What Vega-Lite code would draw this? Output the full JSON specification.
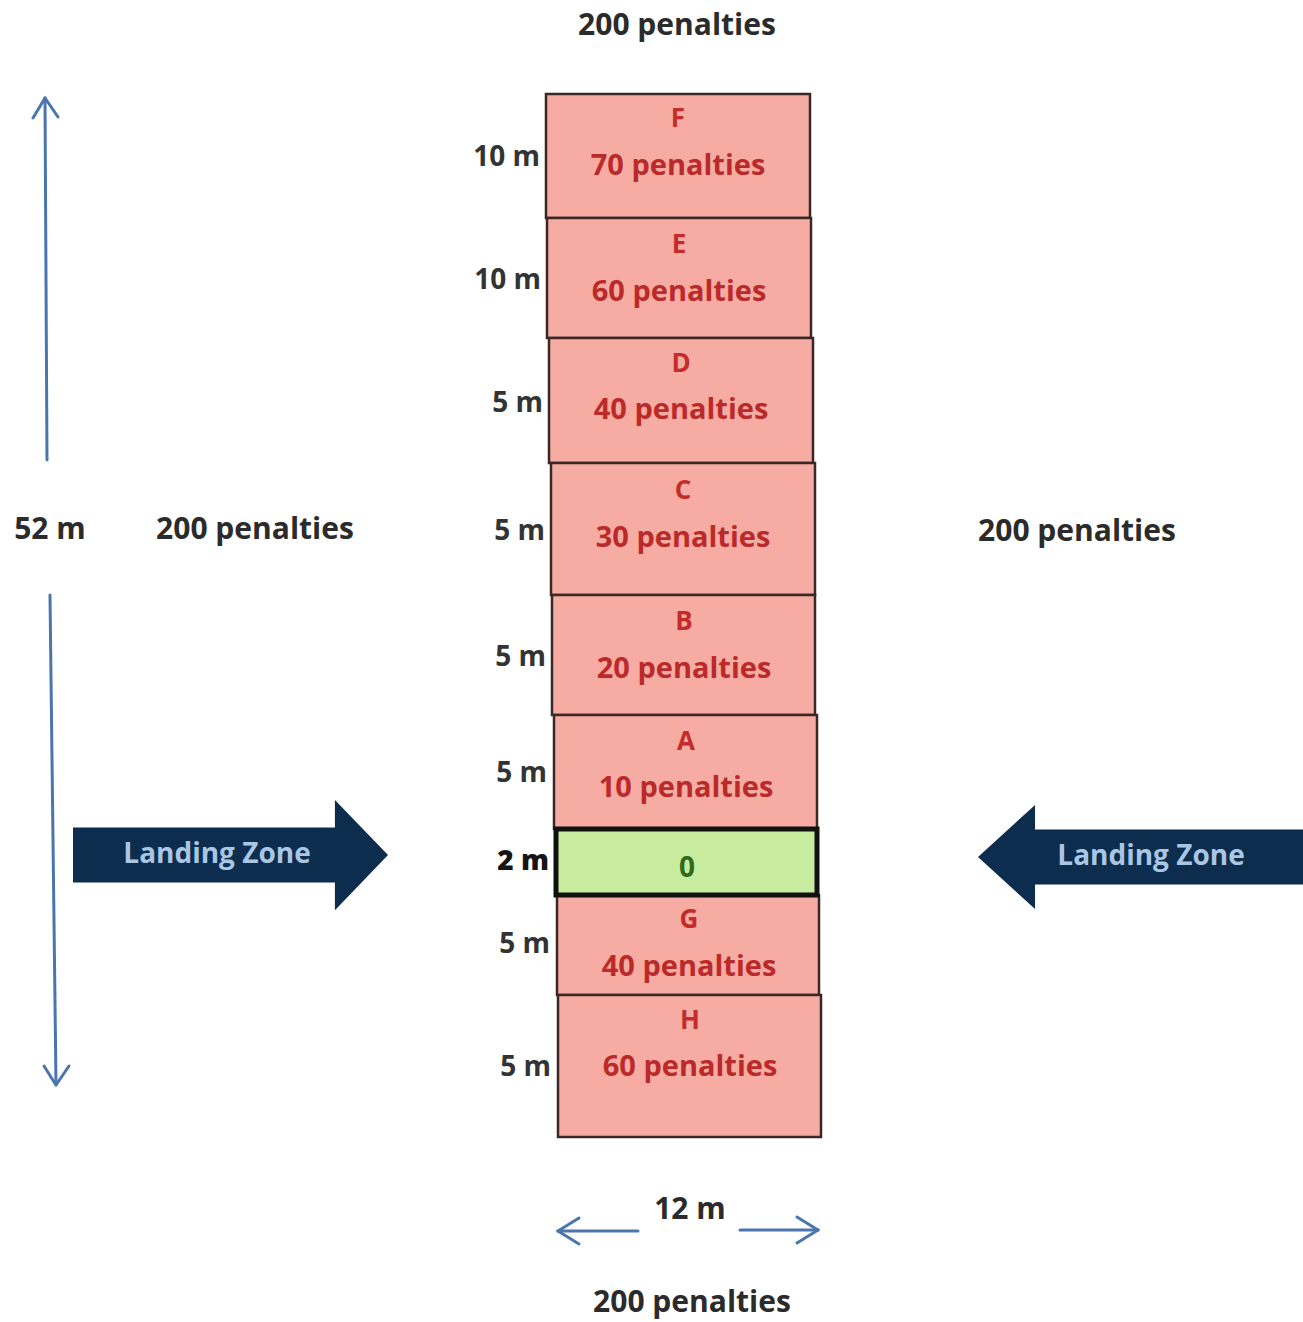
{
  "$schema": "https://vega.github.io/schema/vega-lite/v6.json",
  "autosize": {"type": "fit", "contains": "padding"},
  "width": 1303,
  "height": 1322,
  "padding": 0,
  "background": "#ffffff",
  "config": {"view": {"stroke": null}, "text": {"font": "Open Sans", "fontWeight": "bold"}},
  "datasets": {
    "zones": [
      {"zone": "F", "penalty": "70 penalties", "kind": "penalty", "x1": 546, "x2": 810, "y1": 94, "y2": 218, "yLetter": 119, "yLabel": 166, "metres": "10 m", "xm": 540, "ym": 158},
      {"zone": "E", "penalty": "60 penalties", "kind": "penalty", "x1": 547, "x2": 811, "y1": 218, "y2": 338, "yLetter": 245, "yLabel": 292, "metres": "10 m", "xm": 541, "ym": 281},
      {"zone": "D", "penalty": "40 penalties", "kind": "penalty", "x1": 549, "x2": 813, "y1": 338, "y2": 463, "yLetter": 364, "yLabel": 410, "metres": "5 m", "xm": 543, "ym": 404},
      {"zone": "C", "penalty": "30 penalties", "kind": "penalty", "x1": 551, "x2": 815, "y1": 463, "y2": 595, "yLetter": 491, "yLabel": 538, "metres": "5 m", "xm": 545, "ym": 532},
      {"zone": "B", "penalty": "20 penalties", "kind": "penalty", "x1": 552, "x2": 815, "y1": 595, "y2": 715, "yLetter": 622, "yLabel": 669, "metres": "5 m", "xm": 546, "ym": 658},
      {"zone": "A", "penalty": "10 penalties", "kind": "penalty", "x1": 554, "x2": 817, "y1": 715, "y2": 829, "yLetter": 742, "yLabel": 788, "metres": "5 m", "xm": 547, "ym": 774},
      {"zone": "G", "penalty": "40 penalties", "kind": "penalty", "x1": 557, "x2": 819, "y1": 895, "y2": 995, "yLetter": 920, "yLabel": 967, "metres": "5 m", "xm": 550, "ym": 945},
      {"zone": "H", "penalty": "60 penalties", "kind": "penalty", "x1": 558, "x2": 821, "y1": 995, "y2": 1137, "yLetter": 1021, "yLabel": 1067, "metres": "5 m", "xm": 551, "ym": 1068}
    ],
    "landing": [
      {"zone": "0", "kind": "landing", "x1": 556, "x2": 817, "y1": 829, "y2": 895, "yLabel": 869, "metres": "2 m", "xm": 549, "ym": 862}
    ],
    "outer": [
      {"label": "200 penalties", "x": 677, "y": 26},
      {"label": "200 penalties", "x": 255, "y": 530},
      {"label": "200 penalties", "x": 1077, "y": 532},
      {"label": "200 penalties", "x": 692, "y": 1303},
      {"label": "52 m", "x": 50, "y": 530},
      {"label": "12 m", "x": 690, "y": 1210}
    ],
    "lines": [
      {"part": "v-up", "x": 45, "y": 98, "x2": 47, "y2": 460},
      {"part": "v-up-w1", "x": 33, "y": 118, "x2": 45, "y2": 98},
      {"part": "v-up-w2", "x": 45, "y": 98, "x2": 58, "y2": 117},
      {"part": "v-down", "x": 50, "y": 595, "x2": 56, "y2": 1084},
      {"part": "v-down-w1", "x": 44, "y": 1066, "x2": 56, "y2": 1085},
      {"part": "v-down-w2", "x": 56, "y": 1085, "x2": 69, "y2": 1066},
      {"part": "h-left", "x": 558, "y": 1231, "x2": 638, "y2": 1231},
      {"part": "h-left-w1", "x": 579, "y": 1218, "x2": 558, "y2": 1231},
      {"part": "h-left-w2", "x": 558, "y": 1231, "x2": 579, "y2": 1244},
      {"part": "h-right", "x": 740, "y": 1230, "x2": 818, "y2": 1230},
      {"part": "h-right-w1", "x": 797, "y": 1217, "x2": 818, "y2": 1230},
      {"part": "h-right-w2", "x": 818, "y": 1230, "x2": 797, "y2": 1243}
    ],
    "arrowsRight": [{"label": "Landing Zone", "x": 230.5, "y": 855, "tx": 217}],
    "arrowsLeft": [{"label": "Landing Zone", "x": 1140.5, "y": 857, "tx": 1151}]
  },
  "layer": [
    {
      "data": {"name": "zones"},
      "mark": {"type": "rect", "stroke": "#3b2826", "strokeWidth": 2.5, "fill": "#f6aca2"},
      "encoding": {
        "x": {"field": "x1", "type": "quantitative", "scale": {"domain": [0, 1303], "nice": false, "zero": false}, "axis": null},
        "x2": {"field": "x2"},
        "y": {"field": "y1", "type": "quantitative", "scale": {"domain": [0, 1322], "reverse": true, "nice": false, "zero": false}, "axis": null},
        "y2": {"field": "y2"}
      }
    },
    {
      "data": {"name": "landing"},
      "mark": {"type": "rect", "stroke": "#111111", "strokeWidth": 5, "fill": "#c8ec9e"},
      "encoding": {
        "x": {"field": "x1", "type": "quantitative"},
        "x2": {"field": "x2"},
        "y": {"field": "y1", "type": "quantitative"},
        "y2": {"field": "y2"}
      }
    },
    {
      "data": {"name": "zones"},
      "mark": {"type": "text", "fontSize": 26, "color": "#c22c2c", "align": "center", "baseline": "middle", "dx": 132},
      "encoding": {
        "x": {"field": "x1", "type": "quantitative"},
        "y": {"field": "yLetter", "type": "quantitative"},
        "text": {"field": "zone"}
      }
    },
    {
      "data": {"name": "zones"},
      "mark": {"type": "text", "fontSize": 29, "color": "#bb2a2a", "align": "center", "baseline": "middle", "dx": 132},
      "encoding": {
        "x": {"field": "x1", "type": "quantitative"},
        "y": {"field": "yLabel", "type": "quantitative"},
        "text": {"field": "penalty"}
      }
    },
    {
      "data": {"name": "landing"},
      "mark": {"type": "text", "fontSize": 28, "color": "#2f6b1c", "align": "center", "baseline": "middle", "dx": 131},
      "encoding": {
        "x": {"field": "x1", "type": "quantitative"},
        "y": {"field": "yLabel", "type": "quantitative"},
        "text": {"field": "zone"}
      }
    },
    {
      "data": {"name": "zones"},
      "mark": {"type": "text", "fontSize": 28, "color": "#333333", "align": "right", "baseline": "middle"},
      "encoding": {
        "x": {"field": "xm", "type": "quantitative"},
        "y": {"field": "ym", "type": "quantitative"},
        "text": {"field": "metres"}
      }
    },
    {
      "data": {"name": "landing"},
      "mark": {"type": "text", "fontSize": 28, "fontWeight": 800, "color": "#151515", "align": "right", "baseline": "middle"},
      "encoding": {
        "x": {"field": "xm", "type": "quantitative"},
        "y": {"field": "ym", "type": "quantitative"},
        "text": {"field": "metres"}
      }
    },
    {
      "data": {"name": "outer"},
      "mark": {"type": "text", "fontSize": 30, "color": "#2b2b2b", "align": "center", "baseline": "middle"},
      "encoding": {
        "x": {"field": "x", "type": "quantitative"},
        "y": {"field": "y", "type": "quantitative"},
        "text": {"field": "label"}
      }
    },
    {
      "data": {"name": "lines"},
      "mark": {"type": "rule", "stroke": "#4a76ad", "strokeWidth": 3, "strokeCap": "round"},
      "encoding": {
        "x": {"field": "x", "type": "quantitative"},
        "y": {"field": "y", "type": "quantitative"},
        "x2": {"field": "x2"},
        "y2": {"field": "y2"}
      }
    },
    {
      "data": {"name": "arrowsRight"},
      "mark": {"type": "point", "filled": true, "opacity": 1, "color": "#0c2d4e", "size": 99225, "shape": "M-1,-0.175 L0.663,-0.175 L0.663,-0.35 L1,0 L0.663,0.35 L0.663,0.175 L-1,0.175 Z"},
      "encoding": {
        "x": {"field": "x", "type": "quantitative"},
        "y": {"field": "y", "type": "quantitative"}
      }
    },
    {
      "data": {"name": "arrowsLeft"},
      "mark": {"type": "point", "filled": true, "opacity": 1, "color": "#0c2d4e", "size": 105625, "shape": "M1,-0.169 L-0.649,-0.169 L-0.649,-0.32 L-1,0 L-0.649,0.32 L-0.649,0.169 L1,0.169 Z"},
      "encoding": {
        "x": {"field": "x", "type": "quantitative"},
        "y": {"field": "y", "type": "quantitative"}
      }
    },
    {
      "data": {"name": "arrowsRight"},
      "mark": {"type": "text", "fontSize": 28, "color": "#a9c6e4", "align": "center", "baseline": "middle"},
      "encoding": {
        "x": {"field": "tx", "type": "quantitative"},
        "y": {"field": "y", "type": "quantitative"},
        "text": {"field": "label"}
      }
    },
    {
      "data": {"name": "arrowsLeft"},
      "mark": {"type": "text", "fontSize": 28, "color": "#a9c6e4", "align": "center", "baseline": "middle"},
      "encoding": {
        "x": {"field": "tx", "type": "quantitative"},
        "y": {"field": "y", "type": "quantitative"},
        "text": {"field": "label"}
      }
    }
  ]
}
